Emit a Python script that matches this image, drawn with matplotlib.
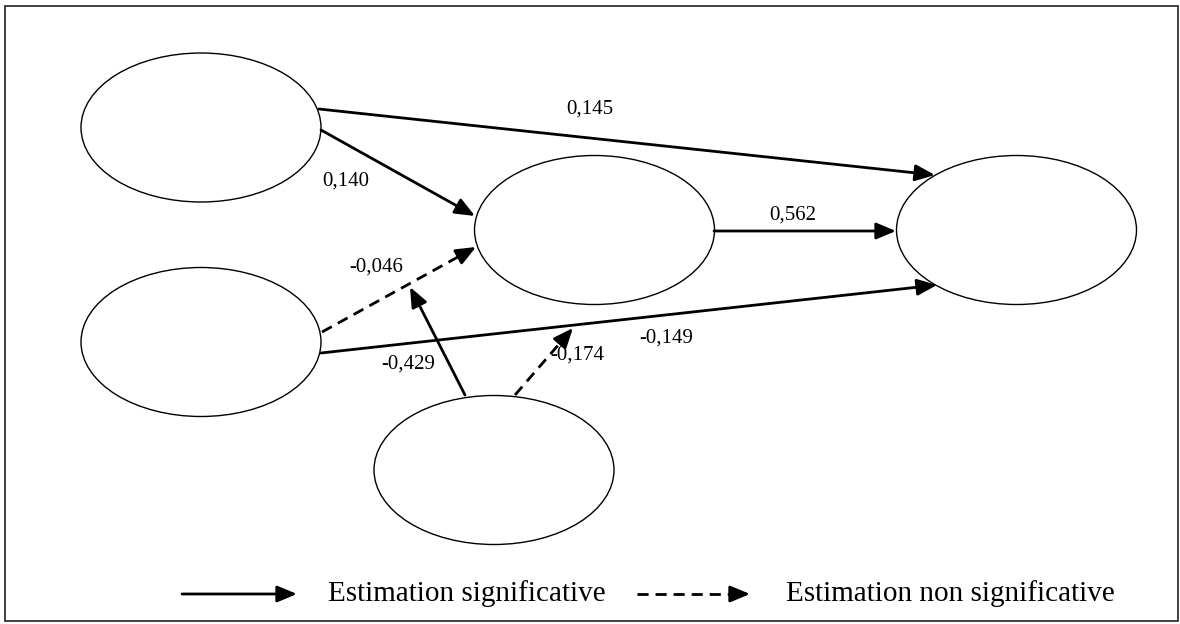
import numpy as np
import matplotlib.pyplot as plt
from matplotlib.patches import Ellipse, Rectangle

plt.rcParams['font.family'] = ['Liberation Serif', 'DejaVu Serif']

# latent variables (centre x, centre y) in pixel space of the original figure
node_x = [201, 201, 594.5, 1016.5, 494]
node_y = [127.5, 342, 230, 230, 470]
node_w = 240
node_h = 149

# paths: start, end, coefficient, significant
start_x = [319, 321, 714, 322, 321, 465, 515]
start_y = [109, 130, 231, 332, 353, 395, 395]
end_x = [935, 475, 896, 476, 937, 410, 573]
end_y = [175, 216, 231, 247, 285, 287, 328]
coefs = ['0,145', '0,140', '0,562', '-0,046', '-0,149', '-0,429', '-0,174']
signif = [True, True, True, False, True, True, False]
lab_x = [590, 346, 793, 376, 666, 408, 577]
lab_y = [109, 181, 215, 267, 338, 364, 355]

legend_labels = ['Estimation significative', 'Estimation non significative']

fig = plt.figure(figsize=(11.8, 6.24), dpi=100)
ax = fig.add_axes([0, 0, 1, 1])
ax.set_xlim(0, 1180)
ax.set_ylim(624, 0)
ax.axis('off')

ax.add_patch(Rectangle((5, 6), 1173, 615, fill=False, lw=1.2, ec='#222222'))

for x, y in zip(node_x, node_y):
    ax.add_patch(Ellipse((x, y), node_w, node_h, fill=False, lw=1.0, ec='black'))

head = '-|>,head_length=0.6,head_width=0.25'


def arrow(x0, y0, x1, y1, solid):
    if solid:
        ax.annotate('', xy=(x1, y1), xytext=(x0, y0),
                    arrowprops=dict(arrowstyle=head, lw=2.0, color='black',
                                    shrinkA=0, shrinkB=0, mutation_scale=20))
    else:
        d = np.array([x1 - x0, y1 - y0])
        d = d / np.hypot(*d)
        hx, hy = x1 - 16 * d[0], y1 - 16 * d[1]
        ax.plot([x0, hx], [y0, hy], color='black', lw=2.0, ls=(0, (4, 2.5)))
        ax.annotate('', xy=(x1, y1), xytext=(hx, hy),
                    arrowprops=dict(arrowstyle=head, lw=2.0, color='black',
                                    shrinkA=0, shrinkB=0, mutation_scale=20))


for i in range(len(coefs)):
    arrow(start_x[i], start_y[i], end_x[i], end_y[i], signif[i])
    ax.text(lab_x[i], lab_y[i], coefs[i], fontsize=15, ha='center', va='center')

# legend
arrow(182, 594, 297, 594, True)
ax.text(328, 594, legend_labels[0], fontsize=21, ha='left', va='center')
arrow(637, 594, 750, 594, False)
ax.text(786, 594, legend_labels[1], fontsize=21, ha='left', va='center')

fig.savefig('out.png', dpi=100)
